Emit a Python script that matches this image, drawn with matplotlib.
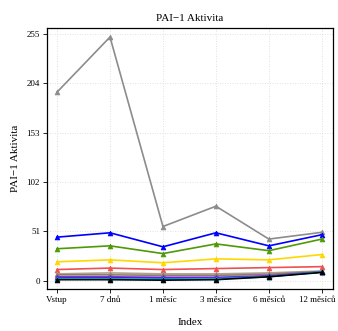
import matplotlib
matplotlib.use("Agg")
import matplotlib.pyplot as plt
import matplotlib.transforms as mtransforms

categories = ["Vstup", "7 dnů", "1 měsíc", "3 měsíce", "6 měsíců", "12 měsíců"]
yticks = [0, 51, 102, 153, 204, 255]

s_gray   = [195, 252, 56, 77, 43, 50]
s_blue   = [45, 49.5, 35, 49.5, 36, 47.5]
s_green  = [33, 36, 28, 38, 31, 43]
s_yellow = [19.5, 21.5, 18.5, 22.5, 21.5, 27]
s_red    = [11.5, 13, 11.5, 12.5, 13.5, 14.5]
s_tan    = [7, 8, 7, 7, 8, 10]
s_brown  = [6, 6, 5.5, 5.5, 6.5, 9.5]
s_purple = [4, 4, 3.5, 3.5, 5, 9]
s_dblue  = [3, 3, 2.5, 2.5, 4.5, 9]
s_cyan   = [2, 2, 1.5, 2, 4, 9]
s_black  = [1, 1, 0.5, 1, 4, 8.5]

series = [
    (s_gray, "#8C8C8C"),
    (s_blue, "#0000FF"),
    (s_green, "#4E9A06"),
    (s_yellow, "#FFD700"),
    (s_red, "#F05050"),
    (s_tan, "#B0A090"),
    (s_brown, "#8B7D6B"),
    (s_purple, "#A020F0"),
    (s_dblue, "#3030C0"),
    (s_cyan, "#00B8D8"),
    (s_black, "#000000"),
]

plt.rcParams['font.family'] = ['Liberation Serif', 'DejaVu Serif']

fig = plt.figure(figsize=(3.38, 3.31), dpi=100)
ax = fig.add_axes([0.139, 0.127, 0.846, 0.788])

x = list(range(len(categories)))
for vals, col in series:
    ax.plot(x, vals, color=col, lw=1.2, marker='^', markersize=3.5,
            markeredgewidth=0.5, zorder=3)

ax.set_xlim(-0.19, 5.21)
ax.set_ylim(-8.6, 261.2)
ax.set_xticks(x)
ax.set_xticklabels(categories, fontsize=6.5)
ax.set_yticks(yticks)
ax.set_yticklabels([str(v) for v in yticks], fontsize=6.5)
ax.grid(True, color="#D8D8D8", linestyle=(0, (1, 2)), linewidth=0.6)
ax.tick_params(direction='out', length=3, width=0.6, pad=2)
for sp in ax.spines.values():
    sp.set_linewidth(0.9)

last = ax.get_xticklabels()[-1]
last.set_transform(last.get_transform() +
                   mtransforms.ScaledTranslation(-4 / 100, 0, fig.dpi_scale_trans))

ax.set_title("PAI\u22121 Aktivita", fontsize=8, pad=5)
ax.set_xlabel("Index", fontsize=8, labelpad=10)
ax.set_ylabel("PAI\u22121 Aktivita", fontsize=8, labelpad=5)

fig.savefig("out.png", dpi=100)
